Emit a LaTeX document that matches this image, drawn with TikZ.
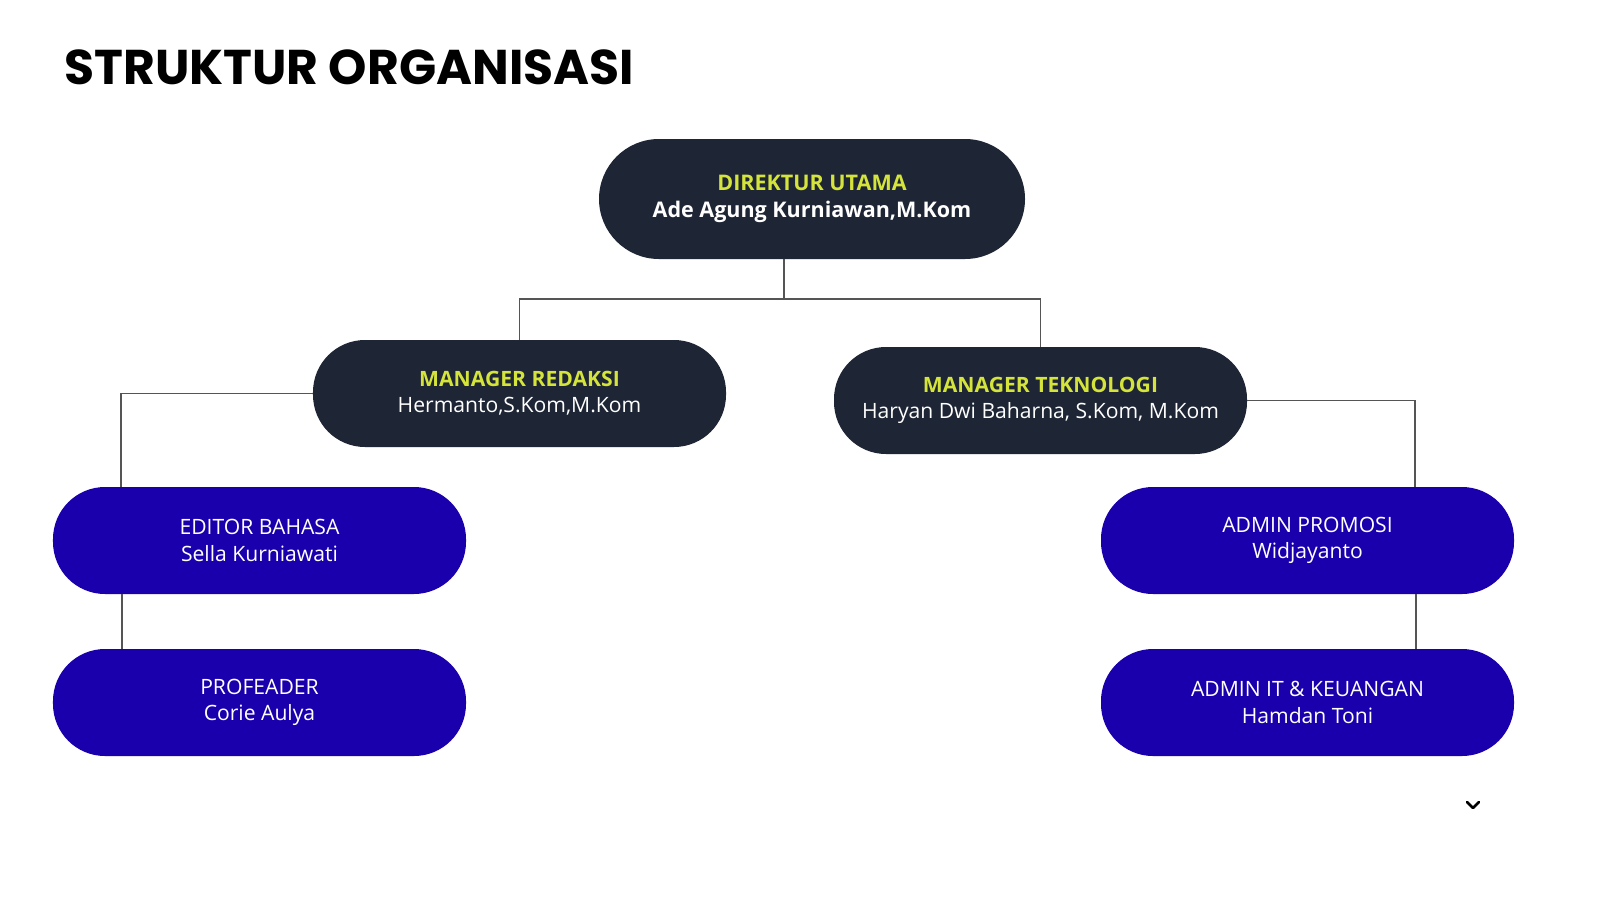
\documentclass[tikz,border=0pt]{standalone}
\usepackage{fontspec}
\usetikzlibrary{calc}
\setmainfont{Open Sans}
\newfontfamily\titlefont{Poppins}
\definecolor{dark}{HTML}{1E2535}
\definecolor{blu}{HTML}{1A00AD}
\definecolor{ylw}{HTML}{D4E43A}
\definecolor{ln}{HTML}{555555}
\begin{document}
\begin{tikzpicture}[x=0.5bp,y=-0.5bp,
  pill/.style={rounded corners=26bp,minimum width=206.5bp,minimum height=53.5bp,align=center,inner sep=0pt,font=\fontsize{10.6}{13.2}\selectfont},
  mgr/.style={pill,fill=dark,text=white},
  staff/.style={pill,fill=blu,text=white},
  con/.style={draw=ln,line width=0.6pt}]
\useasboundingbox (0,0) rectangle (1600,900);
\fill[white] (0,0) rectangle (1600,900);
\node[anchor=base west,inner sep=0pt,font=\titlefont\bfseries\fontsize{24.5}{28}\selectfont] (title) at (64,84) {STRUKTUR ORGANISASI};
\node[mgr,minimum width=213bp,minimum height=60bp,rounded corners=30bp,font=\bfseries\fontsize{10.8}{13.5}\selectfont] (dir) at (812,199) {\textcolor{ylw}{DIREKTUR UTAMA}\\Ade Agung Kurniawan,M.Kom};
\node[mgr] (mr) at (519.5,393.5) {\textcolor{ylw}{\bfseries MANAGER REDAKSI}\\Hermanto,S.Kom,M.Kom};
\node[mgr] (mt) at (1040.5,400.5) {\textcolor{ylw}{\bfseries MANAGER TEKNOLOGI}\\Haryan Dwi Baharna, S.Kom, M.Kom};
\node[staff] (ed) at (259.5,540.5) {EDITOR BAHASA\\Sella Kurniawati};
\node[staff] (pr) at (259.5,702.5) {PROFEADER\\Corie Aulya};
\node[staff] (ap) at (1307.5,540.5) {ADMIN PROMOSI\\Widjayanto};
\node[staff] (ai) at (1307.5,702.5) {ADMIN IT \& KEUANGAN\\Hamdan Toni};
\coordinate (j) at (784,299);
\draw[con] (dir.south -| j) -- (j);
\draw[con] (mr.north) |- (j) -| (mt.north);
\draw[con] (mr.west) -| (ed.north -| 121,0);
\draw[con] (ed.south -| 122,0) -- (pr.north -| 122,0);
\draw[con] (mt.east) -| (ap.north -| 1415,0);
\draw[con] (ap.south -| 1416,0) -- (ai.north -| 1416,0);
\coordinate (c) at (1473,808);
\draw[line width=1.3pt,line cap=round,line join=round] ($(c)+(-6,-6)$) -- (c) -- ($(c)+(6,-6)$);
\end{tikzpicture}
\end{document}
